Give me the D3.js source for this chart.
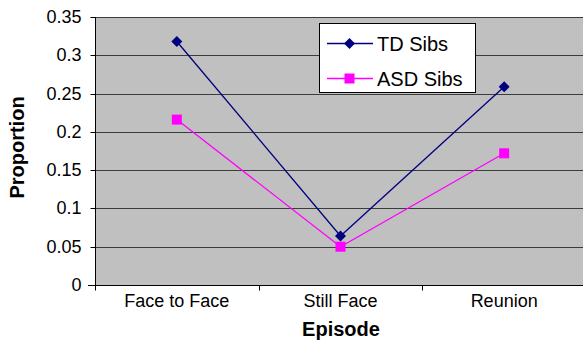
<!DOCTYPE html>
<html><head><meta charset="utf-8">
<script src="https://cdn.jsdelivr.net/npm/d3@7"></script>
<style>body{margin:0;background:#fff}svg{display:block}text{font-family:"Liberation Sans",Arial,sans-serif}</style>
</head><body><svg id="c" width="583" height="341"></svg>
<script>
const categories = ["Face to Face", "Still Face", "Reunion"];
const tdSibs = [0.318, 0.064, 0.259];
const asdSibs = [0.216, 0.050, 0.172];
const seriesNames = ["TD Sibs", "ASD Sibs"];
const yTicks = [0, 0.05, 0.1, 0.15, 0.2, 0.25, 0.3, 0.35];
const yTickLabels = ["0", "0.05", "0.1", "0.15", "0.2", "0.25", "0.3", "0.35"];
const xTitle = "Episode", yTitle = "Proportion";

const svg = d3.select("#c");
const L = 95, R = 586, T = 17, B = 285;
const x = d3.scaleBand().domain(categories).range([L, R]);
const y = d3.scaleLinear().domain([0, 0.35]).range([B, T]);

svg.append("rect").attr("x", L).attr("y", T).attr("width", R - L).attr("height", B - T).attr("fill", "#c0c0c0");

// gridlines
svg.append("g").selectAll("line").data(yTicks.slice(1)).join("line")
  .attr("x1", L).attr("x2", R)
  .attr("y1", d => Math.round(y(d)) + 0.5).attr("y2", d => Math.round(y(d)) + 0.5)
  .attr("stroke", "#3c3c3c").attr("stroke-width", 1);

// y axis
const ya = svg.append("g").attr("transform", `translate(${L + 0.5},0)`)
  .call(d3.axisLeft(y).tickValues(yTicks).tickFormat((d, i) => yTickLabels[i]).tickSize(5).tickPadding(9));
ya.select(".domain").attr("d", `M0,${T}V${B + 5}`).attr("stroke", "#000");
ya.selectAll(".tick line").attr("stroke", "#000");
ya.selectAll(".tick text").attr("font-size", 18).attr("fill", "#000").style("font-family", "Liberation Sans, Arial, sans-serif");
ya.selectAll(".tick").attr("transform", d => `translate(0,${Math.round(y(d)) + 0.5})`);

// x axis
const xa = svg.append("g").attr("transform", `translate(0,${B + 0.5})`);
xa.append("line").attr("x1", L - 7).attr("x2", R).attr("stroke", "#000");
xa.selectAll("line.tk").data(categories.concat(["end"])).join("line").attr("class", "tk")
  .attr("x1", (d, i) => Math.round(L + i * x.bandwidth()) + 0.5)
  .attr("x2", (d, i) => Math.round(L + i * x.bandwidth()) + 0.5)
  .attr("y1", 0).attr("y2", 5).attr("stroke", "#000");
xa.selectAll("text").data(categories).join("text")
  .attr("x", d => x(d) + x.bandwidth() / 2).attr("y", 21)
  .attr("text-anchor", "middle").attr("font-size", 18).attr("fill", "#000").text(d => d);

// titles
svg.append("text").attr("x", 341).attr("y", 336).attr("text-anchor", "middle")
  .attr("font-size", 20).attr("font-weight", "bold").text(xTitle);
svg.append("text").attr("transform", "translate(24,147.5) rotate(-90)").attr("text-anchor", "middle")
  .attr("font-size", 20).attr("font-weight", "bold").text(yTitle);

const cx = d => x(d) + x.bandwidth() / 2;
const line = d3.line().x((d, i) => cx(categories[i])).y(d => y(d));
const colors = ["#000080", "#ff00ff"];
const data = [tdSibs, asdSibs];
data.forEach((vals, k) => {
  svg.append("path").attr("d", line(vals)).attr("fill", "none").attr("stroke", colors[k]).attr("stroke-width", 1.3);
});
const diamond = (s) => `M0,${-s}L${s},0L0,${s}L${-s},0Z`;
svg.append("g").selectAll("path").data(tdSibs).join("path")
  .attr("transform", (d, i) => `translate(${cx(categories[i])},${y(d)})`)
  .attr("d", diamond(5.5)).attr("fill", colors[0]);
svg.append("g").selectAll("rect").data(asdSibs).join("rect")
  .attr("x", (d, i) => cx(categories[i]) - 5).attr("y", d => y(d) - 5)
  .attr("width", 10).attr("height", 10).attr("fill", colors[1]);

// legend
const lg = svg.append("g");
lg.append("rect").attr("x", 319.5).attr("y", 23.5).attr("width", 156).attr("height", 69)
  .attr("fill", "#fff").attr("stroke", "#000");
const rowsY = [43.5, 78.5];
seriesNames.forEach((n, k) => {
  lg.append("line").attr("x1", 327).attr("x2", 373).attr("y1", rowsY[k]).attr("y2", rowsY[k])
    .attr("stroke", colors[k]).attr("stroke-width", 1.3);
  if (k === 0) lg.append("path").attr("transform", `translate(349.5,${rowsY[k]})`).attr("d", diamond(5.5)).attr("fill", colors[0]);
  else lg.append("rect").attr("x", 344.5).attr("y", rowsY[k] - 5).attr("width", 10).attr("height", 10).attr("fill", colors[1]);
  lg.append("text").attr("x", 377).attr("y", rowsY[k] + 7).attr("font-size", 20).attr("fill", "#000").text(n);
});
</script></body></html>
